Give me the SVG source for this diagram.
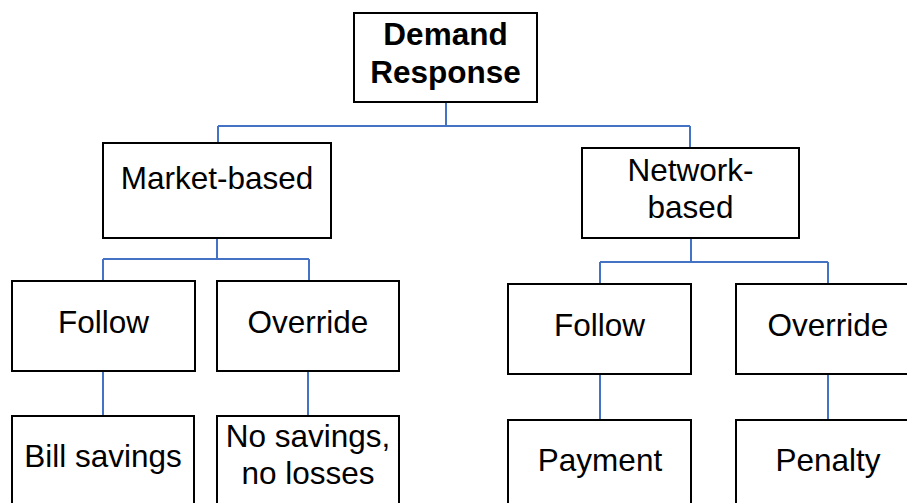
<svg xmlns="http://www.w3.org/2000/svg" width="907" height="503" viewBox="0 0 907 503">
<style>
.box{fill:#fff;stroke:#000;stroke-width:2}
.t{font-family:"Liberation Sans",Arial,sans-serif;font-size:31.5px;fill:#000;text-anchor:middle}
.b{font-weight:bold}
.c{fill:none;stroke:#4472C4;stroke-width:2}
</style>
<rect width="907" height="503" fill="#fff"/>
<g id="connectors">
<path class="c" d="M446 102V126M218 126H690M218 126V143M690 126V148"/>
<path class="c" d="M217 238V259M103 259H309M103 259V281M309 259V281"/>
<path class="c" d="M691 238V262M600 262H828M600 262V284M828 262V284"/>
<path class="c" d="M103 371V416M308 371V416M600 374V420M828 374V420"/>
</g>
<g id="demand-response"><rect class="box" x="354" y="13" width="183" height="89"/><text class="t b" x="445.5" y="45">Demand</text><text class="t b" x="445.5" y="83">Response</text></g>
<g id="market-based"><rect class="box" x="103" y="143" width="228" height="95"/><text class="t" x="217" y="189">Market-based</text></g>
<g id="network-based"><rect class="box" x="582" y="148" width="217" height="90"/><text class="t" x="690.5" y="181">Network-</text><text class="t" x="690.5" y="218">based</text></g>
<g id="mb-follow"><rect class="box" x="12" y="281" width="183" height="90"/><text class="t" x="103.5" y="333">Follow</text></g>
<g id="mb-override"><rect class="box" x="217" y="281" width="182" height="90"/><text class="t" x="308" y="333">Override</text></g>
<g id="bill-savings"><rect class="box" x="12" y="416" width="182" height="100"/><text class="t" x="103" y="467">Bill savings</text></g>
<g id="no-savings"><rect class="box" x="217" y="416" width="182" height="100"/><text class="t" x="308" y="447">No savings,</text><text class="t" x="308" y="484">no losses</text></g>
<g id="nb-follow"><rect class="box" x="508" y="284" width="183" height="90"/><text class="t" x="599.5" y="336">Follow</text></g>
<g id="nb-override"><rect class="box" x="736" y="284" width="183" height="90"/><text class="t" x="828" y="336">Override</text></g>
<g id="payment"><rect class="box" x="508" y="420" width="183" height="100"/><text class="t" x="600" y="471">Payment</text></g>
<g id="penalty"><rect class="box" x="736" y="420" width="183" height="100"/><text class="t" x="828" y="471">Penalty</text></g>
</svg>
